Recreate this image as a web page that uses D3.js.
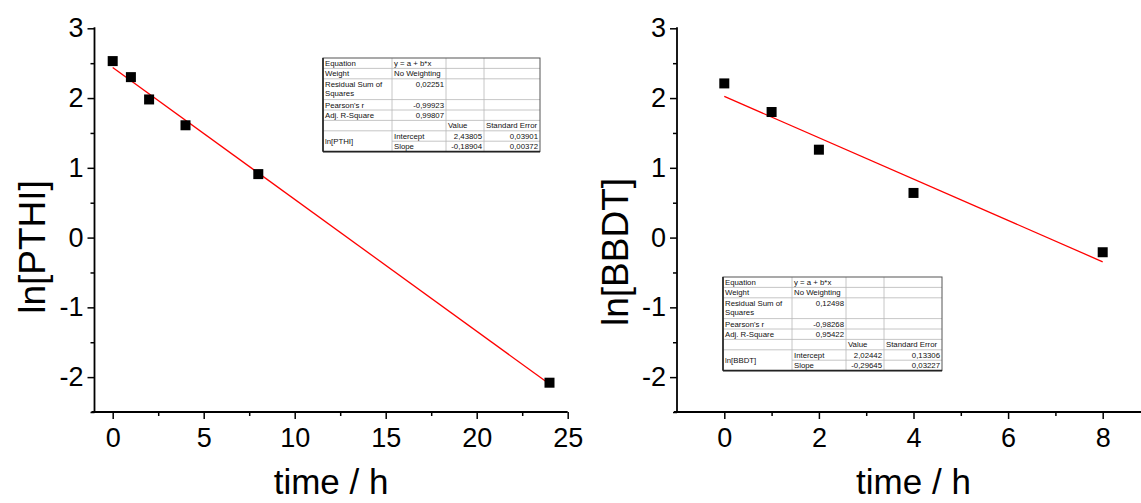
<!DOCTYPE html>
<html>
<head>
<meta charset="utf-8">
<script src="https://cdn.jsdelivr.net/npm/d3@7"></script>
<style>
  html, body { margin: 0; padding: 0; background: #fff; }
  svg { display: block; }
  text { font-family: "Liberation Sans", Arial, Helvetica, sans-serif; fill: #000; }
</style>
</head>
<body>
<svg id="chart" width="1141" height="503"></svg>
<script>
// ---------------- DATA ----------------
const timePTHI = [0, 1, 2, 4, 8, 24];
const lnPTHI = [2.53, 2.30, 1.98, 1.61, 0.91, -2.08];
const fitPTHI = { intercept: 2.43805, slope: -0.18904 };

const timeBBDT = [0, 1, 2, 4, 8];
const lnBBDT = [2.21, 1.80, 1.26, 0.64, -0.21];
const fitBBDT = { intercept: 2.02442, slope: -0.29645 };

const yTicks = [-2, -1, 0, 1, 2, 3];
const yMinorTicks = [-2.5, -1.5, -0.5, 0.5, 1.5, 2.5];
const xTicksPTHI = [0, 5, 10, 15, 20, 25];
const xMinorTicksPTHI = [2.5, 7.5, 12.5, 17.5, 22.5];
const xTicksBBDT = [0, 2, 4, 6, 8];
const xMinorTicksBBDT = [1, 3, 5, 7, 9];

const tableRowsPTHI = [
  ["Equation", "y = a + b*x", "", ""],
  ["Weight", "No Weighting", "", ""],
  ["Residual Sum of|Squares", "0,02251", "", ""],
  ["Pearson's r", "-0,99923", "", ""],
  ["Adj. R-Square", "0,99807", "", ""],
  ["", "", "Value", "Standard Error"],
  ["ln[PTHI]", "Intercept", "2,43805", "0,03901"],
  ["", "Slope", "-0,18904", "0,00372"]
];
const tableRowsBBDT = [
  ["Equation", "y = a + b*x", "", ""],
  ["Weight", "No Weighting", "", ""],
  ["Residual Sum of|Squares", "0,12498", "", ""],
  ["Pearson's r", "-0,98268", "", ""],
  ["Adj. R-Square", "0,95422", "", ""],
  ["", "", "Value", "Standard Error"],
  ["ln[BBDT]", "Intercept", "2,02442", "0,13306"],
  ["", "Slope", "-0,29645", "0,03227"]
];

// ---------------- LAYOUT ----------------
const svg = d3.select("#chart");
const yTop = 28.3, yBottom = 412;
const fmt = d => String(d);

function panel(opts) {
  const g = svg.append("g");
  const x = d3.scaleLinear().domain(opts.xDomain).range(opts.xRange);
  const y = d3.scaleLinear().domain([-2.5, 3]).range([yBottom, yTop]);

  const line = d3.line().x(d => x(d[0])).y(d => y(d[1]));
  const fx = [0, d3.max(opts.xs)];
  g.append("path")
    .datum(fx.map(t => [t, opts.fit.intercept + opts.fit.slope * t]))
    .attr("d", line)
    .attr("fill", "none")
    .attr("stroke", "#ff0000")
    .attr("stroke-width", 1.3);

  const ms = 10;
  g.selectAll("rect.pt")
    .data(opts.xs.map((t, i) => [t, opts.ys[i]]))
    .join("rect")
    .attr("class", "pt")
    .attr("x", d => x(d[0]) - ms / 2)
    .attr("y", d => y(d[1]) - ms / 2)
    .attr("width", ms)
    .attr("height", ms)
    .attr("fill", "#000");

  const x0 = opts.xRange[0];
  const yAxisG = g.append("g").attr("transform", `translate(${x0},0)`);
  yAxisG.call(d3.axisLeft(y).tickValues(yTicks).tickSize(7).tickPadding(4).tickFormat(fmt));
  const yMinorG = g.append("g").attr("transform", `translate(${x0},0)`);
  yMinorG.call(d3.axisLeft(y).tickValues(yMinorTicks).tickSize(4).tickFormat(""));
  const xAxisG = g.append("g").attr("transform", `translate(0,${yBottom})`);
  xAxisG.call(d3.axisBottom(x).tickValues(opts.xTicks).tickSize(7).tickPadding(9).tickFormat(fmt));
  const xMinorG = g.append("g").attr("transform", `translate(0,${yBottom})`);
  xMinorG.call(d3.axisBottom(x).tickValues(opts.xMinor).tickSize(4).tickFormat(""));

  [yAxisG, yMinorG, xAxisG, xMinorG].forEach(a => {
    a.select(".domain").remove();
    a.selectAll(".tick line").attr("stroke", "#000").attr("stroke-width", 1.5);
    a.selectAll(".tick text").style("font-size", "27px").style("font-family", '"Liberation Sans", Arial, sans-serif');
  });
  g.append("line").attr("x1", x0).attr("x2", x0).attr("y1", yTop - 1).attr("y2", yBottom)
    .attr("stroke", "#000").attr("stroke-width", 1.8);
  g.append("line").attr("x1", x0 - 3).attr("x2", opts.xRange[1]).attr("y1", yBottom).attr("y2", yBottom)
    .attr("stroke", "#000").attr("stroke-width", 1.8);

  g.append("text")
    .attr("x", (opts.xRange[0] + opts.xRange[1]) / 2)
    .attr("y", 494)
    .attr("text-anchor", "middle")
    .style("font-size", "35px")
    .text("time / h");
  g.append("text")
    .attr("transform", `translate(${opts.yTitleX},${opts.yTitleY}) rotate(-90)`)
    .attr("text-anchor", "middle")
    .style("font-size", "37px")
    .text(opts.yTitle);

  drawTable(g, opts.tableX, opts.tableY, opts.tableRows, opts.colW);
}

function drawTable(g, tx, ty, rows, colW) {
  const rowH = [10.4, 10.4, 20.8, 10.4, 10.4, 10.4, 10.4, 10.4];
  const t = g.append("g").attr("transform", `translate(${tx},${ty})`);
  const colX = [0];
  colW.forEach(w => colX.push(colX[colX.length - 1] + w));
  const rowY = [0];
  rowH.forEach(h => rowY.push(rowY[rowY.length - 1] + h));
  const W = colX[colX.length - 1], H = rowY[rowY.length - 1];
  t.append("rect").attr("width", W).attr("height", H).attr("fill", "#fff");
  const grid = "#b8b8b8";
  for (let r = 1; r < rowH.length; r++) {
    const startCol = (r === 7) ? 1 : 0;
    t.append("line").attr("x1", colX[startCol]).attr("x2", W)
      .attr("y1", rowY[r]).attr("y2", rowY[r]).attr("stroke", grid).attr("stroke-width", 0.8);
  }
  for (let c = 1; c < colW.length; c++) {
    t.append("line").attr("x1", colX[c]).attr("x2", colX[c])
      .attr("y1", 0).attr("y2", H).attr("stroke", grid).attr("stroke-width", 0.8);
  }
  t.append("rect").attr("width", W).attr("height", H).attr("fill", "none")
    .attr("stroke", "#555").attr("stroke-width", 1);
  t.append("line").attr("x1", 0).attr("x2", 0).attr("y1", 0).attr("y2", H).attr("stroke", "#222").attr("stroke-width", 1.6);
  t.append("line").attr("x1", 0).attr("x2", W).attr("y1", H).attr("y2", H).attr("stroke", "#222").attr("stroke-width", 1.6);

  const fs = 7.8;
  rows.forEach((row, r) => {
    row.forEach((cell, c) => {
      if (!cell) return;
      const numeric = /^-?\d/.test(cell);
      const lines = cell.split("|");
      let baseY = rowY[r] + 8;
      if (r === 6 && c === 0) baseY = rowY[6] + 13.5;
      lines.forEach((ln, i) => {
        t.append("text")
          .attr("x", numeric ? colX[c + 1] - 2 : colX[c] + 2)
          .attr("y", baseY + i * 9.5)
          .attr("text-anchor", numeric ? "end" : "start")
          .style("font-size", fs + "px")
          .style("fill", "#111")
          .text(ln);
      });
    });
  });
}

panel({
  xs: timePTHI, ys: lnPTHI, fit: fitPTHI,
  xDomain: [-1, 25], xRange: [94.5, 567.7],
  xTicks: xTicksPTHI, xMinor: xMinorTicksPTHI,
  yTitle: "ln[PTHI]", yTitleX: 45, yTitleY: 247,
  tableX: 323, tableY: 58, tableRows: tableRowsPTHI, colW: [69, 54, 38, 56]
});

panel({
  xs: timeBBDT, ys: lnBBDT, fit: fitBBDT,
  xDomain: [-1, 9], xRange: [677, 1150],
  xTicks: xTicksBBDT, xMinor: xMinorTicksBBDT,
  yTitle: "ln[BBDT]", yTitleX: 628, yTitleY: 252,
  tableX: 723, tableY: 277, tableRows: tableRowsBBDT, colW: [69, 54, 38, 58]
});
</script>
</body>
</html>
